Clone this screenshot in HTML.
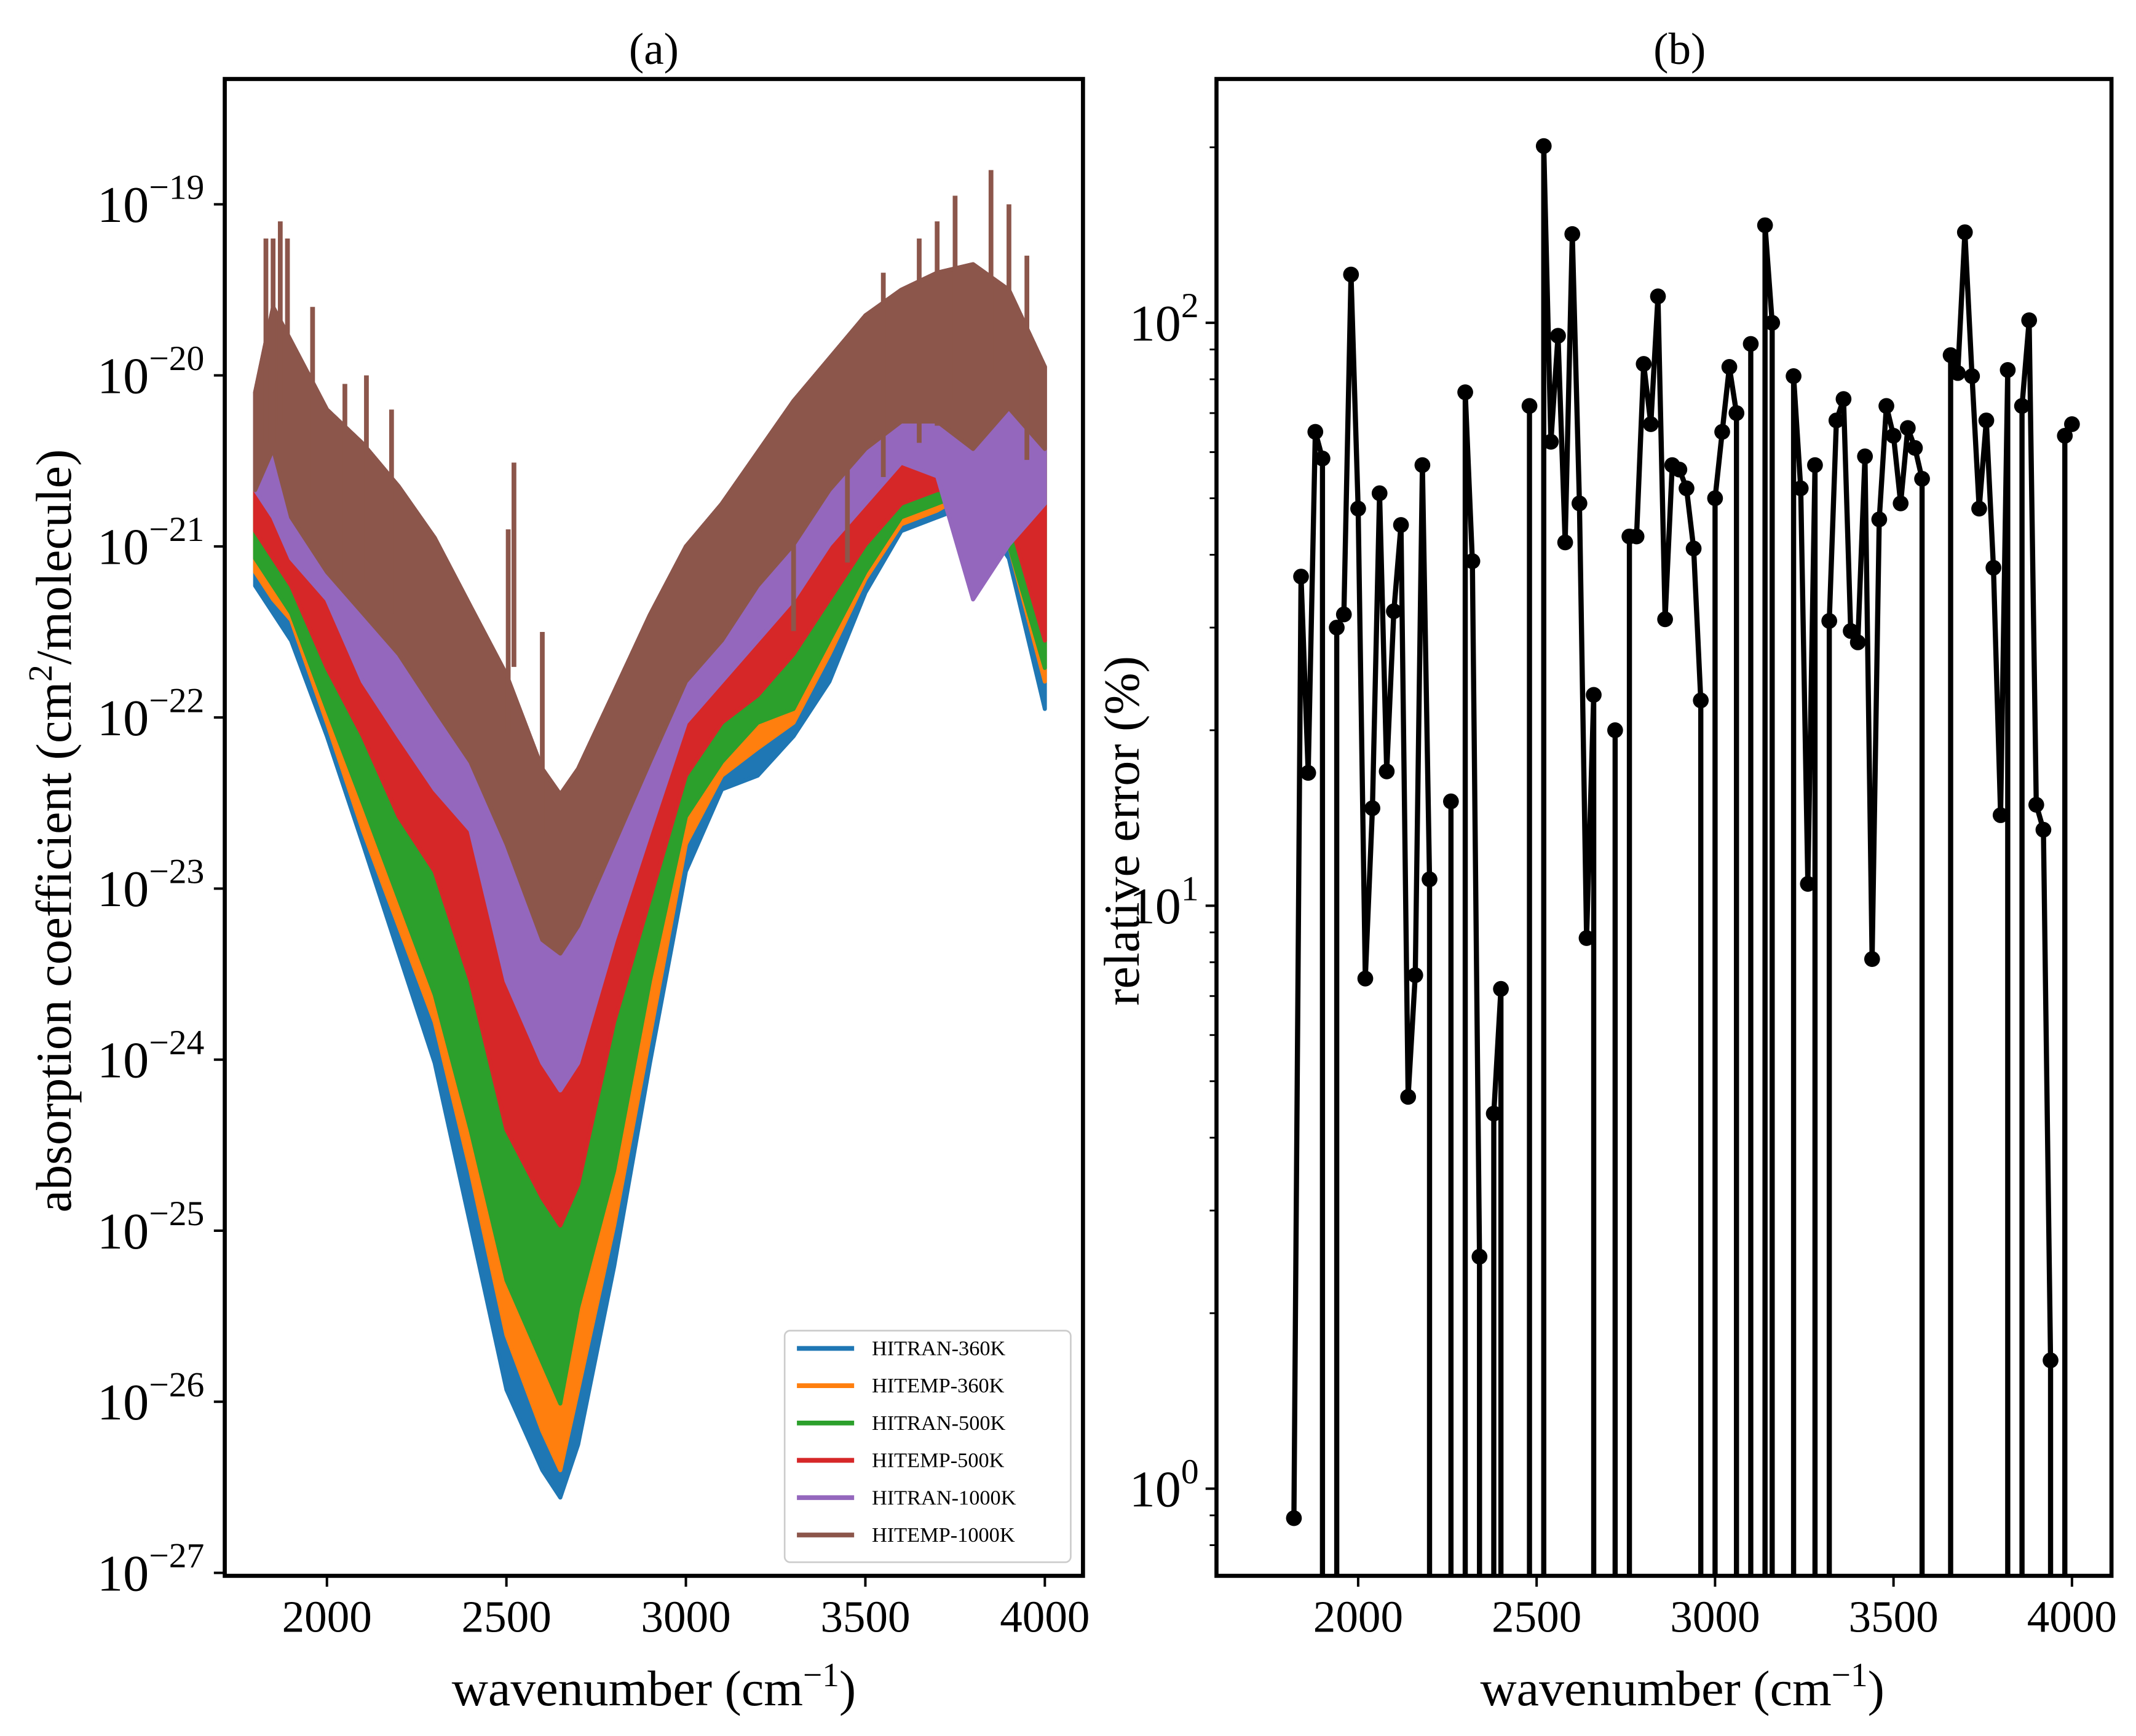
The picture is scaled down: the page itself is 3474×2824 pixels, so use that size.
<!DOCTYPE html>
<html><head><meta charset="utf-8"><style>
html,body{margin:0;padding:0;background:#fff;overflow:hidden;width:3474px;height:2824px;}
svg{display:block;font-family:"Liberation Serif",serif;}
</style></head><body>
<svg id="fig" xmlns="http://www.w3.org/2000/svg" width="3474" height="2824" viewBox="0 0 1568 1274.6" preserveAspectRatio="none">
<defs>
<clipPath id="clipA"><rect x="165" y="58" width="630" height="1099"/></clipPath>
<clipPath id="clipB"><rect x="893" y="58" width="657" height="1099"/></clipPath>
</defs>
<rect x="0" y="0" width="1568" height="1274.6" fill="#fff"/>
<g id="panelA"></g>
<g id="panelB"></g>
</svg>
<script>
// ---------- Panel (a) data: envelopes in log10 (cm^2/molecule) ----------
const specWave = [1800,1850,1900,2000,2100,2200,2300,2400,2500,2600,2650,2700,2800,2900,3000,3100,3200,3300,3400,3500,3600,3700,3800,3900,4000];
const topEnv = [-20.1,-19.6,-19.8,-20.2,-20.4,-20.65,-20.95,-21.35,-21.75,-22.3,-22.45,-22.3,-21.85,-21.4,-21.0,-20.75,-20.45,-20.15,-19.9,-19.65,-19.5,-19.4,-19.35,-19.5,-19.95];
const lowHitemp1000 = [-20.67,-20.43,-20.83,-21.15,-21.39,-21.63,-21.95,-22.26,-22.74,-23.30,-23.38,-23.22,-22.74,-22.26,-21.79,-21.55,-21.23,-20.99,-20.67,-20.43,-20.27,-20.27,-20.43,-20.19,-20.43];
const lowHitran1000 = [-20.67,-20.83,-21.07,-21.31,-21.79,-22.11,-22.42,-22.66,-23.54,-24.02,-24.18,-24.02,-23.30,-22.66,-22.03,-21.79,-21.55,-21.31,-20.99,-20.75,-20.51,-20.59,-21.31,-20.99,-20.75];
const lowHitemp500 = [-20.91,-21.07,-21.23,-21.71,-22.11,-22.58,-22.90,-23.54,-24.41,-24.81,-24.97,-24.73,-23.78,-23.06,-22.34,-22.03,-21.87,-21.63,-21.31,-20.99,-20.75,-20.67,-20.67,-20.83,-21.55];
const lowHitran500 = [-21.07,-21.23,-21.39,-21.95,-22.50,-23.06,-23.62,-24.41,-25.29,-25.77,-26.01,-25.45,-24.65,-23.54,-22.58,-22.26,-22.03,-21.95,-21.55,-21.15,-20.83,-20.75,-20.67,-20.99,-21.71];
const lowHitemp360 = [-21.15,-21.31,-21.43,-22.03,-22.66,-23.22,-23.78,-24.65,-25.61,-26.17,-26.40,-25.93,-24.97,-23.86,-22.74,-22.34,-22.18,-22.03,-21.63,-21.19,-20.87,-20.79,-20.67,-20.99,-21.79];
const lowHitran360 = [-21.23,-21.39,-21.55,-22.11,-22.74,-23.38,-24.02,-24.97,-25.93,-26.40,-26.56,-26.25,-25.21,-24.02,-22.90,-22.42,-22.34,-22.11,-21.79,-21.27,-20.91,-20.83,-20.75,-21.07,-21.95];
const peakWave = [1830,1850,1870,1890,1960,2050,2110,2180,2505,2521,2600,3300,3450,3550,3650,3700,3750,3850,3900,3950];
const peakVal = [-19.2,-19.2,-19.1,-19.2,-19.6,-20.05,-20.0,-20.2,-20.9,-20.51,-21.5,-20.3,-19.9,-19.4,-19.2,-19.1,-18.95,-18.8,-19.0,-19.3];
const seriesNames = ["HITRAN-360K","HITEMP-360K","HITRAN-500K","HITEMP-500K","HITRAN-1000K","HITEMP-1000K"];
const seriesColors = ["#1f77b4","#ff7f0e","#2ca02c","#d62728","#9467bd","#8c564b"];
const seriesLows = [lowHitran360,lowHitemp360,lowHitran500,lowHitemp500,lowHitran1000,lowHitemp1000];
const xTicksA = [2000,2500,3000,3500,4000];
const yTicksA = [-19,-20,-21,-22,-23,-24,-25,-26,-27];

// ---------- Panel (b) data: relative error (%) ; 0 = no value ----------
const errWave = [1820,1840,1860,1880,1900,1920,1940,1960,1980,2000,2020,2040,2060,2080,2100,2120,2140,2160,2180,2200,2220,2240,2260,2280,2300,2320,2340,2360,2380,2400,2420,2440,2460,2480,2500,2520,2540,2560,2580,2600,2620,2640,2660,2680,2700,2720,2740,2760,2780,2800,2820,2840,2860,2880,2900,2920,2940,2960,2980,3000,3020,3040,3060,3080,3100,3120,3140,3160,3180,3200,3220,3240,3260,3280,3300,3320,3340,3360,3380,3400,3420,3440,3460,3480,3500,3520,3540,3560,3580,3600,3620,3640,3660,3680,3700,3720,3740,3760,3780,3800,3820,3840,3860,3880,3900,3920,3940,3960,3980,4000];
const errVals = [0.89,36.7,16.9,65,58.5,0,30,31.6,121,48,7.5,14.7,51,17,32,45,4.7,7.6,57,11.1,0,0,15.1,0,76,39,2.5,0,4.4,7.2,0,0,0,72,0,201,62.5,95,42,142,49,8.8,23,0,0,20,0,43,43,85,67,111,31,57,56,52,41,22.5,0,50,65,84,70,0,92,0,147,100,0,0,81,52,10.9,57,0,30.8,68,74,29.6,28.3,59,8.1,46,72,64,49,66,61,54,0,0,0,88,82,143,81,48,68,38,14.3,83,0,72,101,14.9,13.5,1.66,0,64,67];
const xTicksB = [2000,2500,3000,3500,4000];
const yTicksB = [0,1,2];

const NS="http://www.w3.org/2000/svg";
function mk(tag,attrs,parent){const e=document.createElementNS(NS,tag);for(const k in attrs)e.setAttribute(k,attrs[k]);parent.appendChild(e);return e;}

const xa = w => 240 + (w-2000)*131.75/500;
const ya = l => 150 - (l+19)*125.6;
const xb = w => 997 + (w-2000)*131/500;
const yb = l => 237 - (l-2)*428;

// ---------- Panel A ----------
const A=document.getElementById('panelA');
const gS=mk('g',{'clip-path':'url(#clipA)'},A);
for(let s=0;s<6;s++){
  const low=seriesLows[s];
  let pts=[];
  for(let i=0;i<specWave.length;i++) pts.push(xa(specWave[i]).toFixed(1)+','+ya(topEnv[i]).toFixed(1));
  for(let i=specWave.length-1;i>=0;i--) pts.push(xa(specWave[i]).toFixed(1)+','+ya(low[i]).toFixed(1));
  const p=mk('polygon',{points:pts.join(' '),fill:seriesColors[s],stroke:seriesColors[s],'stroke-width':3,'stroke-linejoin':'round'},gS);
  
  
}
for(let i=0;i<peakWave.length;i++){
  const l=mk('line',{x1:xa(peakWave[i]),x2:xa(peakWave[i]),y1:ya(peakVal[i]),y2:ya(peakVal[i])+150,stroke:'#8c564b','stroke-width':3.5},gS);
  
  
}
const fa=mk('rect',{x:165,y:58,width:630,height:1099,fill:'none',stroke:'#000','stroke-width':3},A);


xTicksA.forEach(t=>{
  mk('line',{x1:xa(t),x2:xa(t),y1:1157,y2:1165,stroke:'#000','stroke-width':1.8},A);
  const tx=mk('text',{x:xa(t),y:1198,'text-anchor':'middle','font-size':33},A);tx.textContent=t;
  
  
});
yTicksA.forEach(t=>{
  const y=ya(t);
  mk('line',{x1:157,x2:165,y1:y,y2:y,stroke:'#000','stroke-width':1.8},A);
  const tx=mk('text',{x:150,y:y+13,'text-anchor':'end','font-size':38},A);
  tx.innerHTML='10<tspan dy="-17" font-size="26">\u2212'+(-t)+'</tspan>';
  
  
});
let t1=mk('text',{x:480,y:47,'text-anchor':'middle','font-size':33},A);t1.textContent='(a)';


let xl=mk('text',{x:480,y:1252,'text-anchor':'middle','font-size':37},A);
xl.innerHTML='wavenumber (cm<tspan dy="-14" font-size="25">\u22121</tspan><tspan dy="14">)</tspan>';


let yl=mk('text',{x:0,y:0,'text-anchor':'middle','font-size':37,transform:'translate(52,610) rotate(-90)'},A);
yl.innerHTML='absorption coefficient (cm<tspan dy="-14" font-size="25">2</tspan><tspan dy="14">/molecule)</tspan>';


const lg=mk('g',{},A);


mk('rect',{x:576,y:977,width:210,height:170,rx:4,fill:'#fff','fill-opacity':0.85,stroke:'#ccc','stroke-width':1.2},lg);
for(let s=0;s<6;s++){
  const y=990+s*27.4;
  const e=mk('g',{},lg);
  
  
  mk('line',{x1:585,x2:627,y1:y,y2:y,stroke:seriesColors[s],'stroke-width':3.5},e);
  const tx=mk('text',{x:640,y:y+5,'font-size':15.5},e);tx.textContent=seriesNames[s];
}

// ---------- Panel B ----------
const B=document.getElementById('panelB');
const gB=mk('g',{'clip-path':'url(#clipB)'},B);
const BOTTOM_B=1160;
let d='';
let prevValid=false;
for(let i=0;i<errWave.length;i++){
  const v=errVals[i];
  if(v>0){
    const x=xb(errWave[i]).toFixed(2), y=yb(Math.log10(v)).toFixed(2);
    if(i===0) d+='M'+x+','+y;
    else if(!prevValid) d+='M'+x+','+BOTTOM_B+'L'+x+','+y;
    else d+='L'+x+','+y;
    prevValid=true;
  } else {
    if(prevValid){ d+='L'+xb(errWave[i-1]).toFixed(2)+','+BOTTOM_B; }
    prevValid=false;
  }
}
const pl=mk('path',{d:d,fill:'none',stroke:'#000','stroke-width':3.8,'stroke-linejoin':'round'},gB);


for(let i=0;i<errWave.length;i++){
  if(errVals[i]>0){
    const c=mk('circle',{cx:xb(errWave[i]),cy:yb(Math.log10(errVals[i])),r:5.8,fill:'#000'},gB);
    
    
  }
}
const fb=mk('rect',{x:893,y:58,width:657,height:1099,fill:'none',stroke:'#000','stroke-width':3},B);


xTicksB.forEach(t=>{
  mk('line',{x1:xb(t),x2:xb(t),y1:1157,y2:1165,stroke:'#000','stroke-width':1.8},B);
  const tx=mk('text',{x:xb(t),y:1198,'text-anchor':'middle','font-size':33},B);tx.textContent=t;
  
  
});
yTicksB.forEach(t=>{
  const y=yb(t);
  mk('line',{x1:885,x2:893,y1:y,y2:y,stroke:'#000','stroke-width':1.8},B);
  const tx=mk('text',{x:880,y:y+13,'text-anchor':'end','font-size':38},B);
  tx.innerHTML='10<tspan dy="-17" font-size="26">'+t+'</tspan>';
  
  
});
for(let dec=-1;dec<=2;dec++){for(let m=2;m<=9;m++){const l=dec+Math.log10(m);if(l>-0.15&&l<2.418){const y=yb(l);mk('line',{x1:888,x2:893,y1:y,y2:y,stroke:'#000','stroke-width':1.3},B);}}}
let t2=mk('text',{x:1233,y:47,'text-anchor':'middle','font-size':33},B);t2.textContent='(b)';


let xl2=mk('text',{x:1235,y:1252,'text-anchor':'middle','font-size':37},B);
xl2.innerHTML='wavenumber (cm<tspan dy="-14" font-size="25">\u22121</tspan><tspan dy="14">)</tspan>';


let yl2=mk('text',{x:0,y:0,'text-anchor':'middle','font-size':37,transform:'translate(836,610) rotate(-90)'},B);
yl2.textContent='relative error (%)';


</script>
</body></html>
